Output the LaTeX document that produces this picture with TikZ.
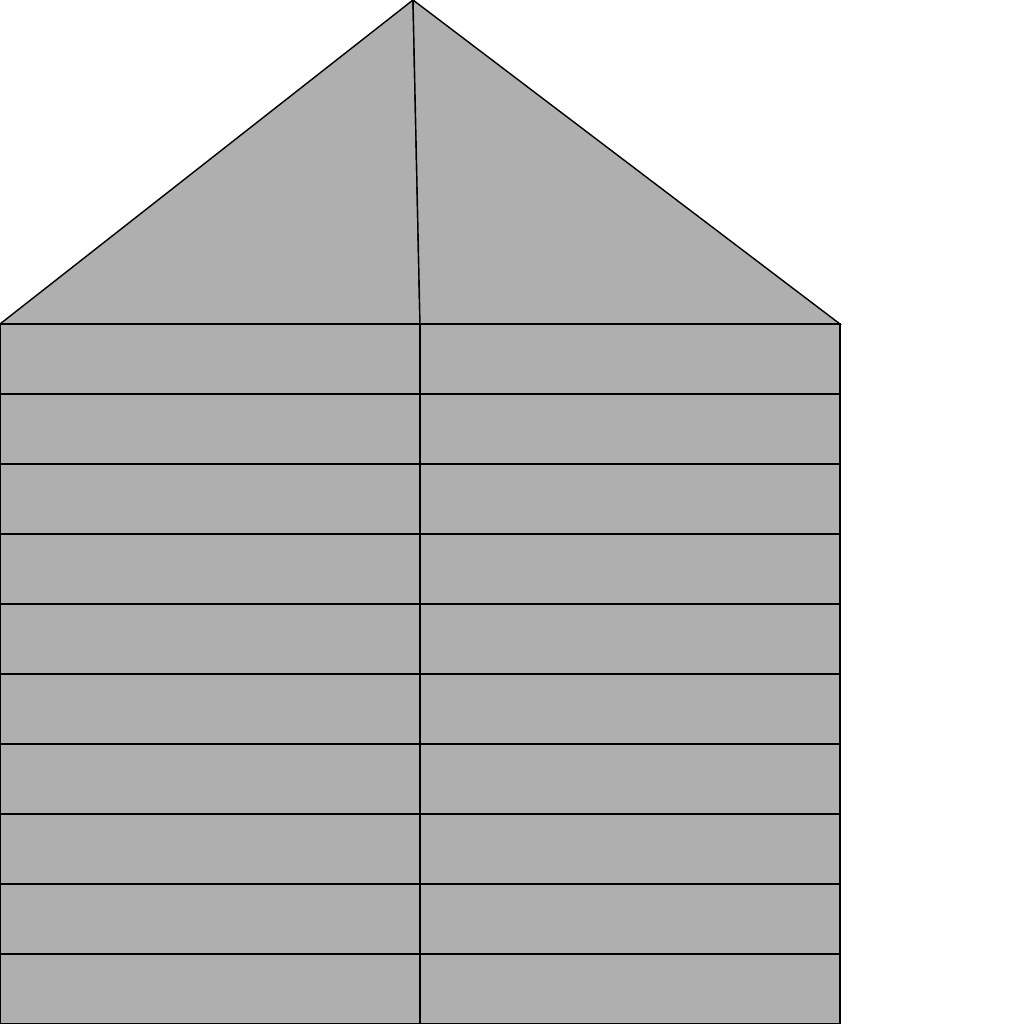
\documentclass[tikz,border=0pt]{standalone}
\definecolor{wallgray}{RGB}{175,175,175}
\tikzset{board/.style={draw=black, fill=wallgray, line width=0.4pt}}
\begin{document}
\begin{tikzpicture}
        \useasboundingbox (0,0) rectangle (10.24,10.24);

        % roof
        \coordinate (apex) at (4.13,10.24);
        \coordinate (eaveL) at (0,7);
        \coordinate (eaveR) at (8.4,7);
        \coordinate (ridge) at (4.2,7);
        \draw[board] (eaveL) -- (apex) -- (ridge) -- cycle;
        \draw[board] (ridge) -- (apex) -- (eaveR) -- cycle;

        % wall boards
        \foreach \i in {0,...,9} {
            \draw[board] (0,0.7*\i) rectangle (4.2,0.7*\i+0.7);
            \draw[board] (4.2,0.7*\i) rectangle (8.4,0.7*\i+0.7);
        }
    \end{tikzpicture}
\end{document}
